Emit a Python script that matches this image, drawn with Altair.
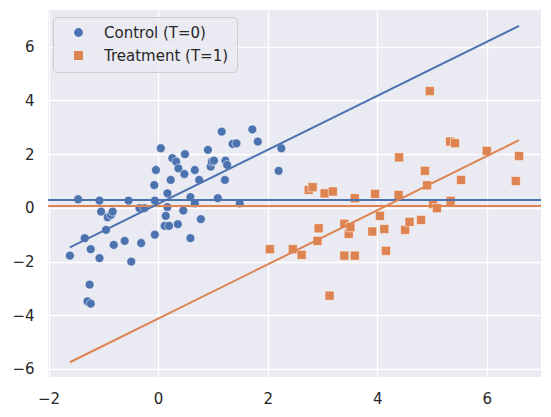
import altair as alt
import pandas as pd

# Control group (T=0)
control_x = [-1.61, -1.46, -1.34, -1.29, -1.23, -1.25, -1.23, -1.07, -1.07, -1.04,
             -0.95, -0.92, -0.86, -0.83, -0.81, -0.61, -0.54, -0.49, -0.34, -0.31,
             -0.25, -0.06, -0.06, -0.07, -0.04, 0.05, 0.12, 0.20, 0.14, 0.17,
             0.17, 0.23, 0.26, 0.33, 0.37, 0.36, 0.46, 0.48, 0.49, 0.59,
             0.59, 0.67, 0.67, 0.75, 0.78, 0.91, 0.96, 0.98, 1.02, 1.09,
             1.16, 1.22, 1.23, 1.26, 1.36, 1.43, 1.49, 1.72, 1.82, 2.20, 2.25]
control_y = [-1.78, 0.32, -1.13, -3.48, -3.57, -2.86, -1.54, 0.27, -1.87, -0.14,
             -0.82, -0.35, -0.26, -0.14, -1.38, -1.23, 0.27, -2.00, -0.01, -1.31,
             -0.01, 0.27, -1.00, 0.85, 1.41, 2.22, -0.67, -0.67, -0.30, 0.03,
             0.54, 1.04, 1.85, 1.72, 1.47, -0.61, -0.10, 1.26, 2.00, 0.40,
             -1.13, 1.41, 0.17, 1.04, -0.42, 2.16, 1.54, 1.72, 1.76, 0.36,
             2.84, 1.04, 1.76, 1.60, 2.38, 2.40, 0.17, 2.92, 2.47, 1.38, 2.22]

# Treatment group (T=1)
treat_x = [2.04, 2.46, 2.62, 2.75, 2.82, 2.91, 2.93, 3.04, 3.13, 3.19,
           3.40, 3.40, 3.48, 3.51, 3.59, 3.59, 3.91, 3.96, 4.05, 4.13,
           4.16, 4.39, 4.40, 4.51, 4.59, 4.80, 4.87, 4.91, 4.96, 5.02,
           5.09, 5.33, 5.42, 5.34, 5.53, 6.00, 6.53, 6.59]
treat_y = [-1.54, -1.54, -1.75, 0.67, 0.77, -1.23, -0.76, 0.54, -3.27, 0.61,
           -0.59, -1.78, -0.97, -0.72, 0.36, -1.78, -0.88, 0.52, -0.30, -0.79,
           -1.60, 0.48, 1.88, -0.82, -0.52, -0.45, 1.38, 0.84, 4.35, 0.14,
           -0.01, 2.47, 2.41, 0.26, 1.04, 2.12, 1.00, 1.93]

groups = ["Control (T=0)", "Treatment (T=1)"]
colors = ["#4C72B0", "#DD8452"]

# fitted lines (end points) and group means
line_x = [-1.61, 6.59]
control_line_y = [-1.47, 6.78]
treat_line_y = [-5.75, 2.52]
mean_y = [0.29, 0.07]

points = pd.concat([
    pd.DataFrame({"x": control_x, "y": control_y, "group": groups[0]}),
    pd.DataFrame({"x": treat_x, "y": treat_y, "group": groups[1]}),
])
lines = pd.concat([
    pd.DataFrame({"x": line_x, "y": control_line_y, "group": groups[0]}),
    pd.DataFrame({"x": line_x, "y": treat_line_y, "group": groups[1]}),
])
means = pd.DataFrame({"y": mean_y, "group": groups})

color_scale = alt.Scale(domain=groups, range=colors)
x_enc = alt.X("x:Q", title=None,
              scale=alt.Scale(domain=[-2.01, 6.99], nice=False, zero=False),
              axis=alt.Axis(values=[-2, 0, 2, 4, 6], format="d"))
y_enc = alt.Y("y:Q", title=None,
              scale=alt.Scale(domain=[-6.30, 7.37], nice=False, zero=False),
              axis=alt.Axis(values=[-6, -4, -2, 0, 2, 4, 6], format="d"))

scatter = alt.Chart(points).mark_point(filled=True, opacity=1, stroke="white", strokeWidth=0.5).encode(
    x=x_enc,
    y=y_enc,
    color=alt.Color("group:N", scale=color_scale, legend=alt.Legend(title=None)),
    shape=alt.Shape("group:N", scale=alt.Scale(domain=groups, range=["circle", "square"]),
                    legend=alt.Legend(title=None)),
    size=alt.Size("group:N", scale=alt.Scale(domain=groups, range=[78, 82]), legend=None),
)

fit = alt.Chart(lines).mark_line(strokeWidth=2).encode(
    x="x:Q",
    y="y:Q",
    color=alt.Color("group:N", scale=color_scale, legend=None),
    detail="group:N",
)

hline = alt.Chart(means).mark_rule(strokeWidth=2).encode(
    y="y:Q",
    color=alt.Color("group:N", scale=color_scale, legend=None),
)

chart = alt.layer(scatter, hline, fit).properties(
    width=493,
    height=367,
    padding={"left": 40, "top": 2, "right": 2, "bottom": 30},
    autosize=alt.AutoSizeParams(type="none"),
).configure_view(
    fill="#EAEAF2",
    stroke=None
).configure_axis(
    grid=True,
    gridColor="white",
    gridWidth=1.3,
    domain=False,
    ticks=False,
    tickSize=0,
    labelFlush=False,
    labelFont="DejaVu Sans",
    labelFontSize=15,
    labelColor="#262626",
    labelPadding=14
).configure_legend(
    orient="none",
    legendX=5,
    legendY=7,
    padding=8,
    fillColor="rgba(234,234,242,0.8)",
    strokeColor="#cccccc",
    cornerRadius=4,
    labelFont="DejaVu Sans",
    labelFontSize=15,
    labelColor="#262626",
    symbolSize=85,
    symbolOffset=10,
    labelOffset=18,
    rowPadding=7,
    symbolStrokeWidth=0
)

chart.save("out.html", embed_options={"renderer": "svg", "actions": False})
